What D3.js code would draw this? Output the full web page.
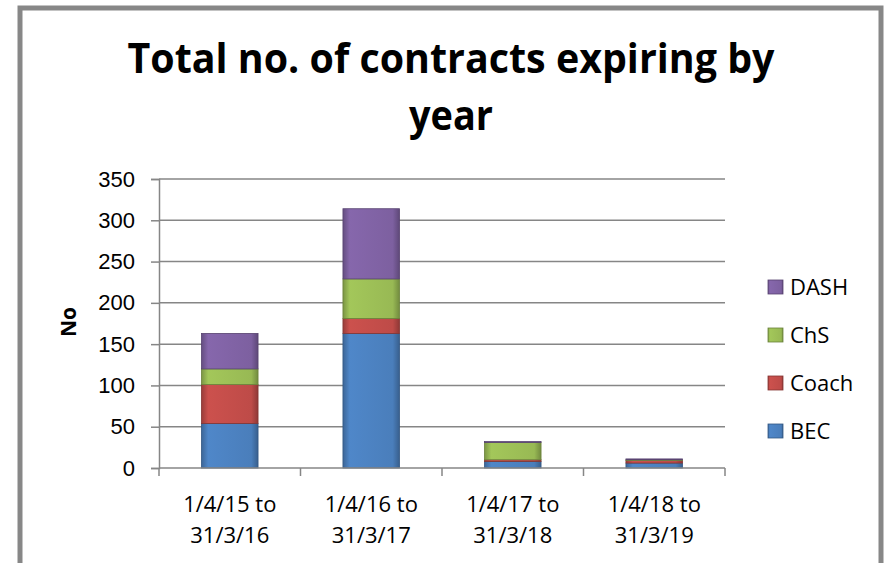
<!DOCTYPE html>
<html>
<head>
<meta charset="utf-8">
<script src="https://cdn.jsdelivr.net/npm/d3@7"></script>
<style>
  body { margin: 0; background: #fff; }
  svg { display: block; font-family: "Open Sans", "Liberation Sans", sans-serif; }
</style>
</head>
<body>
<svg id="chart" width="887" height="563"></svg>
<script>
// data
let categories = [["1/4/15 to", "31/3/16"], ["1/4/16 to", "31/3/17"], ["1/4/17 to", "31/3/18"], ["1/4/18 to", "31/3/19"]];
let seriesNames = ["BEC", "Coach", "ChS", "DASH"];
let bec = [54, 163, 8, 6];
let coach = [47, 18, 2, 3];
let chs = [19, 48, 21, 1];
let dash = [43, 85, 1, 1];
let yTicks = [0, 50, 100, 150, 200, 250, 300, 350];
let colors = { BEC: "#4a7ebb", Coach: "#be4b48", ChS: "#98b954", DASH: "#7d60a0" };

let svg = d3.select("#chart");
let plot = { left: 159, right: 725, top: 179, bottom: 468 };

// outer frame
svg.append("rect")
    .attr("x", 20).attr("y", 8)
    .attr("width", 861).attr("height", 600)
    .attr("fill", "#fff")
    .attr("stroke", "#878787")
    .attr("stroke-width", 5);

// gradients for the bevelled look
let defs = svg.append("defs");
seriesNames.forEach(function(s) {
    let c = d3.color(colors[s]);
    let g = defs.append("linearGradient").attr("id", "g-" + s)
        .attr("x1", 0).attr("x2", 1).attr("y1", 0).attr("y2", 0);
    g.append("stop").attr("offset", "0%").attr("stop-color", c.darker(0.6));
    g.append("stop").attr("offset", "12%").attr("stop-color", c.brighter(0.2));
    g.append("stop").attr("offset", "88%").attr("stop-color", c);
    g.append("stop").attr("offset", "100%").attr("stop-color", c.darker(0.8));
});

// title
svg.append("text")
    .attr("x", 451).attr("y", 73)
    .attr("text-anchor", "middle")
    .style("font-weight", "bold").style("font-size", "42px")
    .attr("textLength", 647).attr("lengthAdjust", "spacingAndGlyphs")
    .text("Total no. of contracts expiring by");
svg.append("text")
    .attr("x", 451).attr("y", 130)
    .attr("text-anchor", "middle")
    .style("font-weight", "bold").style("font-size", "42px")
    .attr("textLength", 84).attr("lengthAdjust", "spacingAndGlyphs")
    .text("year");

let xScale = d3.scaleBand()
    .domain(d3.range(categories.length))
    .range([plot.left, plot.right])
    .paddingInner(0.6).paddingOuter(0.3);

let yScale = d3.scaleLinear()
    .domain([0, 350])
    .range([plot.bottom, plot.top]);

// gridlines
svg.append("g").selectAll("line").data(yTicks.filter(d => d > 0)).enter()
    .append("line")
    .attr("x1", plot.left).attr("x2", plot.right)
    .attr("y1", d => yScale(d)).attr("y2", d => yScale(d))
    .attr("stroke", "#868686").attr("stroke-width", 1.5);

// y axis
let yAxis = d3.axisLeft(yScale).tickValues(yTicks).tickSize(8).tickPadding(16);
let gY = svg.append("g").attr("transform", "translate(" + plot.left + ",0)").call(yAxis);
gY.select(".domain").attr("stroke", "#868686").attr("stroke-width", 1.5);
gY.selectAll(".tick line").attr("stroke", "#868686").attr("stroke-width", 1.5);
gY.selectAll(".tick text").style("font-size", "22px").attr("fill", "#000").attr("font-family", null);

svg.append("text")
    .attr("transform", "translate(76," + 322 + ") rotate(-90)")
    .attr("text-anchor", "middle")
    .style("font-weight", "bold").style("font-size", "21px")
    .text("No");

// stacked bars
let rows = categories.map(function(c, i) {
    return { i: i, BEC: bec[i], Coach: coach[i], ChS: chs[i], DASH: dash[i] };
});
let stack = d3.stack().keys(seriesNames)(rows);

svg.append("g").selectAll("g").data(stack).enter()
    .append("g")
    .attr("fill", d => "url(#g-" + d.key + ")")
    .selectAll("rect").data(d => d).enter()
    .append("rect")
    .attr("x", d => xScale(d.data.i))
    .attr("width", xScale.bandwidth())
    .attr("y", d => yScale(d[1]))
    .attr("height", d => yScale(d[0]) - yScale(d[1]))
    .attr("stroke", function() { return d3.color(colors[d3.select(this.parentNode).datum().key]).darker(1); })
    .attr("stroke-width", 0.8);

// x axis with ticks between categories
let step = (plot.right - plot.left) / categories.length;
let gX = svg.append("g");
gX.append("line")
    .attr("x1", plot.left).attr("x2", plot.right)
    .attr("y1", plot.bottom).attr("y2", plot.bottom)
    .attr("stroke", "#868686").attr("stroke-width", 1.5);
gX.selectAll("line.tk").data(d3.range(categories.length + 1)).enter()
    .append("line").attr("class", "tk")
    .attr("x1", d => plot.left + d * step).attr("x2", d => plot.left + d * step)
    .attr("y1", plot.bottom).attr("y2", plot.bottom + 8)
    .attr("stroke", "#868686").attr("stroke-width", 1.5);

let xLabels = gX.selectAll("text").data(categories).enter()
    .append("text")
    .attr("text-anchor", "middle")
    .style("font-size", "22px");
xLabels.append("tspan")
    .attr("x", (d, i) => xScale(i) + xScale.bandwidth() / 2)
    .attr("y", 512)
    .text(d => d[0]);
xLabels.append("tspan")
    .attr("x", (d, i) => xScale(i) + xScale.bandwidth() / 2)
    .attr("y", 543)
    .text(d => d[1]);

// legend (reverse order, DASH on top)
let legendY = d3.scalePoint().domain(seriesNames.slice().reverse()).range([287, 431]);
let legend = svg.append("g").selectAll("g").data(seriesNames.slice().reverse()).enter()
    .append("g")
    .attr("transform", d => "translate(768," + legendY(d) + ")");
legend.append("rect")
    .attr("x", 0).attr("y", -7)
    .attr("width", 15).attr("height", 14)
    .attr("fill", d => "url(#g-" + d + ")")
    .attr("stroke", d => d3.color(colors[d]).darker(1))
    .attr("stroke-width", 0.8);
legend.append("text")
    .attr("x", 22).attr("y", 8)
    .style("font-size", "22px")
    .text(d => d);
</script>
</body>
</html>
